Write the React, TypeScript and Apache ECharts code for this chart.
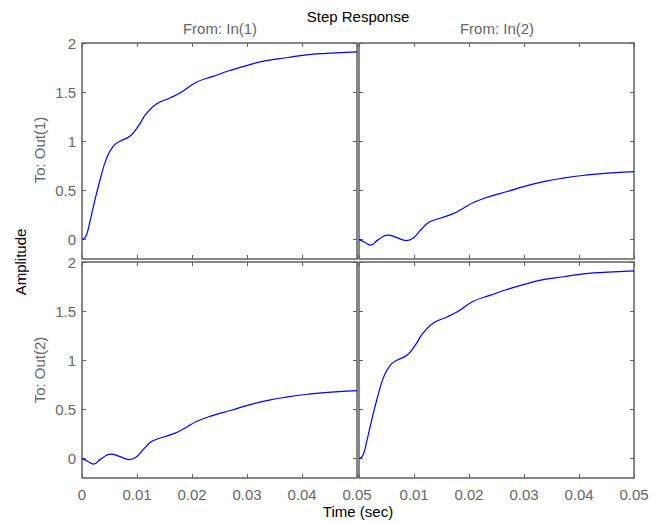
import React, { useEffect, useRef } from "react";
import * as echarts from "echarts";

// Direct response (In(1)->Out(1), In(2)->Out(2))
const timeDirect = [0, 0.0004, 0.00085, 0.0014, 0.0021, 0.0033, 0.0045, 0.0057, 0.0069, 0.0087, 0.0102, 0.0117, 0.0136, 0.016, 0.0178, 0.0208, 0.0238, 0.0269, 0.0299, 0.0335, 0.0372, 0.0408, 0.0444, 0.05];
const valuesDirect = [0, 0.01, 0.05, 0.17, 0.34, 0.61, 0.83, 0.95, 1.0, 1.05, 1.15, 1.28, 1.38, 1.44, 1.49, 1.6, 1.66, 1.72, 1.77, 1.82, 1.85, 1.88, 1.895, 1.91];

// Cross response (In(2)->Out(1), In(1)->Out(2))
const timeCross = [0, 0.00103, 0.0021, 0.00345, 0.0053, 0.0068, 0.0086, 0.0098, 0.0113, 0.0128, 0.015, 0.0168, 0.0186, 0.021, 0.024, 0.0271, 0.0301, 0.0338, 0.0374, 0.041, 0.0447, 0.05];
const valuesCross = [0, -0.03, -0.058, -0.005, 0.044, 0.02, -0.012, 0.012, 0.1, 0.176, 0.22, 0.254, 0.305, 0.38, 0.44, 0.49, 0.54, 0.59, 0.626, 0.653, 0.673, 0.69];

const xTicks = [0, 0.01, 0.02, 0.03, 0.04, 0.05];
const yTicks = [0, 0.5, 1, 1.5, 2];
const columnTitles = ["From: In(1)", "From: In(2)"];
const rowTitles = ["To: Out(1)", "To: Out(2)"];

const GREY = "#666666";
const AXIS = "#606060";
const FONT = "Liberation Sans";

export default function App() {
  const ref = useRef<HTMLDivElement>(null);
  useEffect(() => {
    document.body.style.margin = "0";
    const chart = echarts.init(ref.current!, null, { renderer: "svg" });
    const grids = [
      { left: 82, top: 43, width: 275, height: 216 },
      { left: 359, top: 43, width: 275, height: 216 },
      { left: 82, top: 262, width: 275, height: 216 },
      { left: 359, top: 262, width: 275, height: 216 },
    ];
    const panelData = [
      [timeDirect, valuesDirect],
      [timeCross, valuesCross],
      [timeCross, valuesCross],
      [timeDirect, valuesDirect],
    ];
    const xAxis: any[] = [];
    const yAxis: any[] = [];
    const series: any[] = [];
    grids.forEach((g, i) => {
      const showX = i >= 2;
      const showY = i % 2 === 0;
      const xLabels = i === 3 ? xTicks.slice(1) : xTicks;
      const baseX = {
        type: "value",
        gridIndex: i,
        min: 0,
        max: 0.05,
        interval: 0.01,
        axisLine: { show: false, onZero: false },
        splitLine: { show: false },
        axisTick: { show: true, inside: true, length: 4, lineStyle: { color: AXIS, width: 1 } },
      };
      xAxis.push({
        ...baseX,
        position: "bottom",
        axisLabel: {
          show: showX,
          customValues: xLabels,
          color: GREY,
          fontSize: 15,
          fontFamily: FONT,
          margin: 9,
          formatter: (v: number) => String(parseFloat(v.toFixed(3))),
        },
      });
      xAxis.push({ ...baseX, position: "top", axisLabel: { show: false } });
      const baseY = {
        type: "value",
        gridIndex: i,
        min: -0.2,
        max: 2,
        axisLine: { show: false, onZero: false },
        splitLine: { show: false },
        axisTick: { show: true, inside: true, length: 4, customValues: yTicks, lineStyle: { color: AXIS, width: 1 } },
      };
      yAxis.push({
        ...baseY,
        position: "left",
        axisLabel: {
          show: showY,
          customValues: yTicks,
          color: GREY,
          fontSize: 15,
          fontFamily: FONT,
          margin: 6,
          formatter: (v: number) => String(parseFloat(v.toFixed(3))),
        },
      });
      yAxis.push({ ...baseY, position: "right", axisLabel: { show: false } });
      const [t, v] = panelData[i];
      series.push({
        type: "line",
        xAxisIndex: 2 * i,
        yAxisIndex: 2 * i,
        data: t.map((tt, k) => [tt, v[k]]),
        smooth: 0.5,
        showSymbol: false,
        lineStyle: { color: "#0000ff", width: 1.2 },
        itemStyle: { color: "#0000ff" },
      });
    });
    const txt = (text: string, x: number, y: number, fill: string, rot = 0) => ({
      type: "text",
      x,
      y,
      rotation: rot,
      style: { text, fill, font: `15px ${FONT}`, align: "center", verticalAlign: "middle" },
    });
    const graphic: any[] = [
      txt("Step Response", 358, 16, "#000"),
      txt("Time (sec)", 358, 511, "#000"),
      txt("Amplitude", 20, 262, "#000", Math.PI / 2),
      txt(columnTitles[0], 220, 28, GREY),
      txt(columnTitles[1], 497, 28, GREY),
      txt(rowTitles[0], 39, 150, GREY, Math.PI / 2),
      txt(rowTitles[1], 39, 370, GREY, Math.PI / 2),
    ];
    chart.setOption({
      animation: false,
      backgroundColor: "#ffffff",
      grid: grids.map((g) => ({ ...g, show: true, borderColor: AXIS, borderWidth: 1.5, backgroundColor: "transparent" })),
      xAxis,
      yAxis,
      series,
      graphic,
    });
    return () => chart.dispose();
  }, []);
  return <div ref={ref} style={{ width: 663, height: 523 }} />;
}
